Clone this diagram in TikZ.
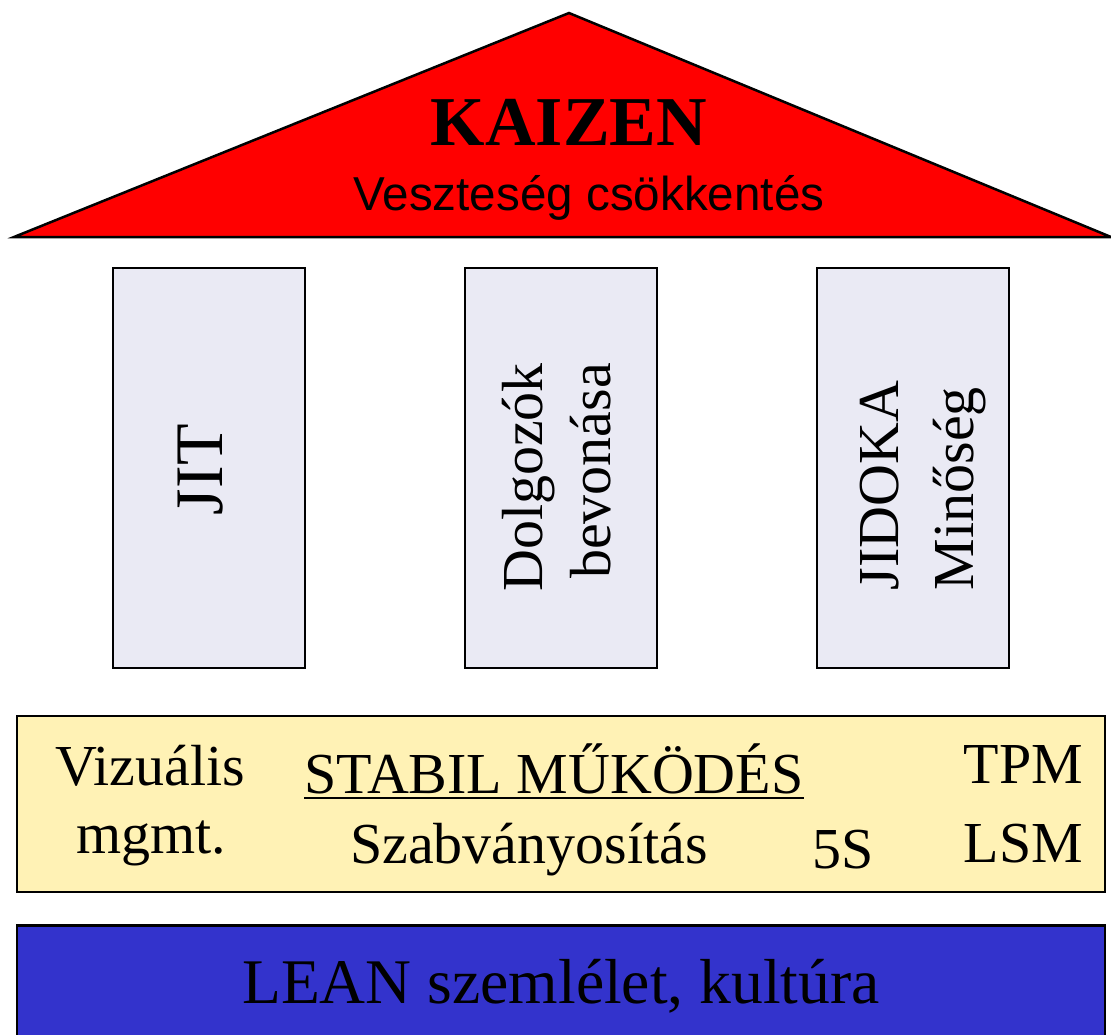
\documentclass[tikz,border=0pt]{standalone}
\usepackage{fontspec}
\setmainfont{Liberation Serif}
\newfontfamily\arialfont{Liberation Sans}
\definecolor{roofred}{RGB}{255,0,0}
\definecolor{pillarfill}{RGB}{234,234,244}
\definecolor{stabfill}{RGB}{255,242,181}
\definecolor{leanblue}{RGB}{51,51,204}
\begin{document}
\begin{tikzpicture}[x=1pt,y=-1pt,
  pillarbox/.style={draw=black,line width=2.5pt,fill=pillarfill,minimum width=192pt,minimum height=400pt,inner sep=0pt},
  txt/.style={inner sep=0pt,outer sep=0pt,font=\fontsize{58}{64}\selectfont},
  vtxt/.style={txt,rotate=90}]
\useasboundingbox (0,0) rectangle (1111,1034);
% roof
\coordinate (apex) at (569,13);
\coordinate (rl) at (14,237);
\coordinate (rr) at (1111,237);
\draw[line width=2.5pt,fill=roofred,line join=miter] (rl) -- (apex) -- (rr) -- cycle;
\node[inner sep=0pt,anchor=base,font=\fontsize{70}{80}\selectfont\bfseries] (kaizen) at (569,145) {KAIZEN};
\node[inner sep=0pt,anchor=base,font=\arialfont\fontsize{47.6}{54}\selectfont] (veszt) at (589,210) {Veszteség csökkentés};
% pillars
\node[pillarbox] (p1) at (209,468) {};
\node[pillarbox] (p2) at (561,468) {};
\node[pillarbox] (p3) at (913,468) {};
\node[vtxt,anchor=base west,font=\fontsize{68}{74}\selectfont] (jit) at (222,515) {JIT};
\node[vtxt,anchor=base east] (dolg) at (542,363) {Dolgozók};
\node[vtxt,anchor=base east] (bevo) at (610,363) {bevonása};
\node[vtxt,anchor=base west] (jid) at (898,590) {JIDOKA};
\node[vtxt,anchor=base west] (min) at (973,590) {Minőség};
% stable operation
\node[draw=black,line width=2.5pt,fill=stabfill,minimum width=1088pt,minimum height=176pt,inner sep=0pt] (stab) at (561,804) {};
\node[txt,anchor=base west] (viz) at (55,785) {Vizuális};
\node[txt,anchor=base west] (mgmt) at (76,853) {mgmt.};
\node[txt,anchor=base west] (stabil) at (304,793) {STABIL MŰKÖDÉS};
\draw[line width=2.5pt] ([yshift=-5pt]stabil.base west) -- ([yshift=-5pt]stabil.base east);
\node[txt,anchor=base west] (szab) at (350,863) {Szabványosítás};
\node[txt,anchor=base west] (fives) at (812,868) {5S};
\node[txt,anchor=base east] (tpm) at (1083,783) {TPM};
\node[txt,anchor=base east] (lsm) at (1083,862) {LSM};
% lean
\node[draw=black,line width=2.5pt,fill=leanblue,minimum width=1088pt,minimum height=160pt,inner sep=0pt,anchor=north] (lean) at (561,924) {};
\node[inner sep=0pt,anchor=base,font=\fontsize{63.6}{70}\selectfont] (leantxt) at (561,1003) {LEAN szemlélet, kultúra};
\end{tikzpicture}
\end{document}
